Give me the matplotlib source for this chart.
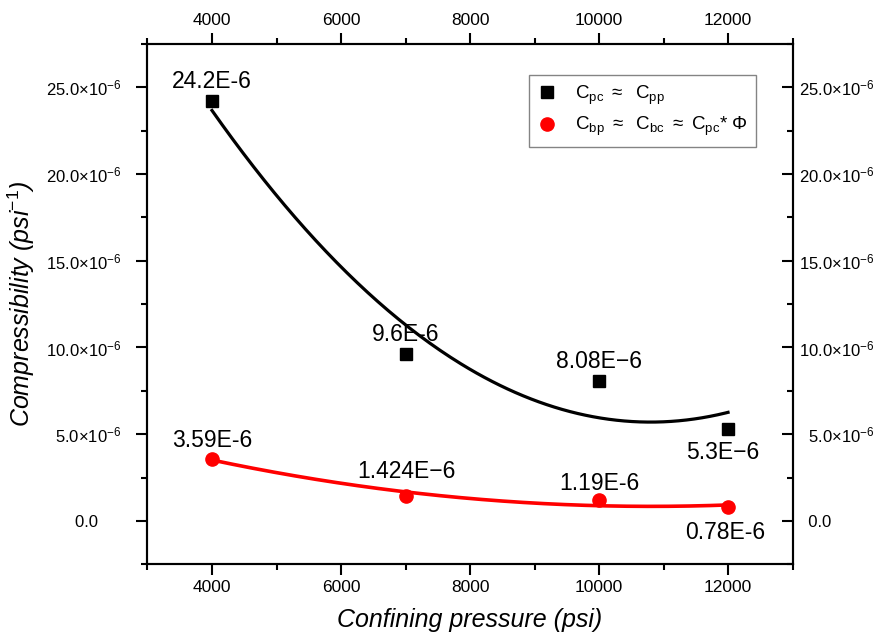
import numpy as np
import matplotlib
matplotlib.use("Agg")
import matplotlib.pyplot as plt
from matplotlib.ticker import MultipleLocator, FuncFormatter

plt.rcParams["font.family"] = ["Liberation Sans", "DejaVu Sans"]
plt.rcParams["mathtext.fontset"] = "custom"
plt.rcParams["mathtext.rm"] = "Liberation Sans"
plt.rcParams["mathtext.it"] = "Liberation Sans:italic"
plt.rcParams["mathtext.bf"] = "Liberation Sans:bold"

# Confining pressure (psi)
pressure = [4000, 7000, 10000, 12000]
# Pore compressibility C_pc (1/psi, in units of 1e-6)
c_pc = [24.2, 9.6, 8.08, 5.3]
c_pc_labels = ["24.2E-6", "9.6E-6", "8.08E\u22126", "5.3E\u22126"]
# Bulk compressibility C_bp (1/psi, in units of 1e-6)
c_bp = [3.59, 1.424, 1.19, 0.78]
c_bp_labels = ["3.59E-6", "1.424E\u22126", "1.19E-6", "0.78E-6"]
x_ticks = [4000, 6000, 8000, 10000, 12000]

x = np.array(pressure, dtype=float)
y_pc = np.array(c_pc) * 1e-6
y_bp = np.array(c_bp) * 1e-6

fig = plt.figure(figsize=(8.88, 6.44), dpi=100)
ax = fig.add_axes([0.1661, 0.1238, 0.7264, 0.8079])

# Second-order polynomial trend lines
xf = np.linspace(x.min(), x.max(), 200)
fit_pc = np.polyval(np.polyfit(x, y_pc, 2), xf)
fit_bp = np.polyval(np.polyfit(x, y_bp, 2), xf)
ax.plot(xf, fit_pc, color="black", lw=2.3, zorder=2)
ax.plot(xf, fit_bp, color="#ff0000", lw=2.6, zorder=2)

ax.plot(x, y_pc, ls="none", marker="s", ms=8.5, color="black", zorder=3,
        label=r"C$_{\mathrm{pc}}$ $\approx$  C$_{\mathrm{pp}}$")
ax.plot(x, y_bp, ls="none", marker="o", ms=9.5, color="#ff0000", zorder=3,
        label=r"C$_{\mathrm{bp}}$ $\approx$  C$_{\mathrm{bc}}$ $\approx$ C$_{\mathrm{pc}}$* $\Phi$")

# Value annotations (offsets in points)
pc_offsets = [(0, 14), (0, 14), (0, 14), (-4, -17)]
bp_offsets = [(0, 13), (1, 18), (0, 12), (-2, -18)]
for xi, yi, lab, off in zip(x, y_pc, c_pc_labels, pc_offsets):
    ax.annotate(lab, (xi, yi), xytext=off, textcoords="offset points",
                ha="center", va="center", fontsize=16.5)
for xi, yi, lab, off in zip(x, y_bp, c_bp_labels, bp_offsets):
    ax.annotate(lab, (xi, yi), xytext=off, textcoords="offset points",
                ha="center", va="center", fontsize=16.5)

ax.set_xlim(3000, 13000)
ax.set_ylim(-2.5e-6, 27.5e-6)

ax.xaxis.set_minor_locator(MultipleLocator(1000))
ax.set_xticks(x_ticks)
ax.set_xticklabels([str(t) for t in x_ticks])
ax.yaxis.set_major_locator(MultipleLocator(5e-6))
ax.yaxis.set_minor_locator(MultipleLocator(2.5e-6))


def left_fmt(v, pos):
    m = v * 1e6
    if abs(m) < 1e-9:
        return "0.0     "
    return r"%.1f$\times$10$^{\mathrm{-6}}$" % m


def right_fmt(v, pos):
    m = v * 1e6
    if abs(m) < 1e-9:
        return "  0.0"
    lead = "  " if m < 10 else ""
    return lead + r"%.1f$\times$10$^{\mathrm{-6}}$" % m


ax.yaxis.set_major_formatter(FuncFormatter(left_fmt))

# Mirror axis on the right with inward ticks
ax2 = ax.twinx()
ax2.set_ylim(ax.get_ylim())
ax2.yaxis.set_major_locator(MultipleLocator(5e-6))
ax2.yaxis.set_minor_locator(MultipleLocator(2.5e-6))
ax2.yaxis.set_major_formatter(FuncFormatter(right_fmt))
ax2.tick_params(which="both", direction="in", width=1.5, labelsize=12, pad=5)
ax2.tick_params(which="major", length=8)
ax2.tick_params(which="minor", length=4.5)

ax.tick_params(which="both", direction="out", width=1.5, labelsize=12.5,
               top=True, right=False, labeltop=True)
ax.tick_params(axis="y", labelsize=12, pad=11)
ax.tick_params(which="major", length=8)
ax.tick_params(which="minor", length=4.5)
for a in (ax, ax2):
    for sp in a.spines.values():
        sp.set_linewidth(1.5)

ax.set_xlabel("Confining pressure (psi)", fontsize=18, style="italic", labelpad=9)
ax.set_ylabel(r"Compressibility (psi$^{\mathit{-1}}$)", fontsize=18,
              style="italic", labelpad=6)

leg = ax.legend(loc="upper right", bbox_to_anchor=(0.943, 0.94),
                borderaxespad=0, fontsize=13.5, frameon=True, fancybox=False,
                handletextpad=1.0, borderpad=0.45, labelspacing=0.45,
                handlelength=1.0)
leg.get_frame().set_edgecolor("#666666")
leg.get_frame().set_linewidth(1.0)
leg.set_zorder(5)

fig.savefig("out.png", dpi=100)
